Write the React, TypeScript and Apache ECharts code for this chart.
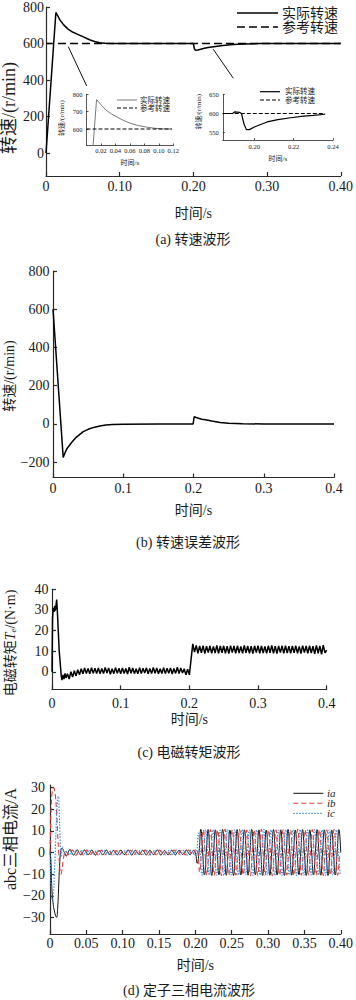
import React, { useEffect, useRef } from "react";
import * as echarts from "echarts";

const FONT = "Liberation Serif, Noto Sans CJK SC, serif";
const STEP = 0.0025;

// (a) speed, main plot
const speedMainT = [0, 0.0134, 0.016, 0.019, 0.024, 0.03, 0.036, 0.043, 0.05, 0.059, 0.066, 0.073, 0.08, 0.09, 0.1, 0.15, 0.199, 0.2, 0.2015, 0.203, 0.206, 0.21, 0.215, 0.22, 0.225, 0.23, 0.24, 0.25, 0.26, 0.27, 0.29, 0.35, 0.4];
const speedMainV = [0, 770, 752, 728, 702, 679, 663, 650, 638, 621, 611, 604, 601, 600, 600, 600, 600, 599, 570, 563, 565, 569, 574, 578, 581, 584, 589, 593, 596, 598, 600, 600, 600];
const refMainT = [0, 0.4];
const refMainV = [600, 600];

// (a) inset 1
const inset1T = [0, 0.0139, 0.016, 0.02, 0.027, 0.034, 0.041, 0.05, 0.06, 0.07, 0.083, 0.095, 0.105, 0.118];
const inset1V = [0, 770, 760, 740, 709, 688, 672, 652, 634, 621, 611, 604, 601, 600];
const inset1RefT = [0, 0.118];
const inset1RefV = [600, 600];

// (a) inset 2
const inset2T = [0.184, 0.189, 0.19, 0.1925, 0.1935, 0.1948, 0.196, 0.1975, 0.2, 0.2065, 0.212, 0.2185, 0.225, 0.23, 0.236];
const inset2V = [600, 600, 604, 603, 600, 572, 558, 558, 565, 578, 584, 589, 593, 595, 598];
const inset2RefT = [0.184, 0.236];
const inset2RefV = [600, 600];

// (b) speed error
const errT = [0, 0.0145, 0.017, 0.02, 0.0265, 0.033, 0.043, 0.05, 0.058, 0.0668, 0.075, 0.085, 0.1, 0.15, 0.1995, 0.201, 0.203, 0.207, 0.212, 0.219, 0.226, 0.238, 0.25, 0.27, 0.3, 0.4];
const errV = [600, -175, -152, -128, -97, -70, -40, -28, -18, -11, -6, -3, -1, 0, 0, 38, 35, 30, 25, 21, 15, 8, 4, 1, 0, 0];

// (c) torque: start-up, then ripple sampled every STEP from TQ_T0
const tqStartT = [0, 0.0008, 0.0018, 0.003, 0.004, 0.005, 0.0068, 0.008, 0.0105, 0.0135, 0.0145, 0.016, 0.0175, 0.019, 0.0205];
const tqStartV = [0, 26, 31, 29, 32, 30, 35, 28, 10, -2, -4, -1.5, -3.5, -0.8, -3];
const TQ_T0 = 0.0225;
const tqWave = [
  -1, -3.5, 0, -2.5, 0.5, -2, 1, -1.5, 1.5, -1,
  1.8, -0.8, 1.6, -1, 2, -0.7, 1.7, -0.9, 1.9, -1,
  1.6, -0.8, 2.1, -0.6, 1.8, -1.2, 1.5, -0.9, 2, -0.7,
  1.7, -1, 1.9, -0.8, 1.6, -1.1, 2.2, -0.7, 1.8, -0.9,
  1.5, -1, 2, -0.8, 1.7, -0.6, 1.9, -1, 1.6, -0.9,
  2.1, -0.7, 1.8, -1, 1.5, -0.8, 2, -0.9, 1.7, -0.7,
  1.9, -1.1, 1.6, -0.8, 2.2, -0.9, 1.8, -0.6, 1.5, -1.5,
  1.2, -1.5, 6, 13.5, 9.5, 12.8, 9, 12.5, 9.2, 12.7,
  8.8, 12.4, 9.3, 12.6, 9, 12.3, 9.1, 12.8, 8.9, 12.5,
  9.2, 12.6, 9, 12.4, 8.8, 12.7, 9.3, 12.5, 9, 12.6,
  9.1, 12.3, 8.9, 12.8, 9.2, 12.5, 9, 12.4, 8.8, 12.6,
  9.3, 12.7, 9, 12.5, 9.1, 12.3, 8.9, 12.6, 9.2, 12.8,
  9, 12.4, 8.8, 12.5, 9.3, 12.6, 9, 12.7, 9.1, 12.4,
  8.9, 12.5, 9.2, 12.6, 9, 12.3, 8.8, 12.7, 9.3, 12.5,
  9, 12.6, 9.1, 12.4, 8.7, 12.8, 9, 12.5, 8.5, 12.9,
  9.2, 10.5,
];

// (d) phase currents: start-up, then samples every STEP from each phase's T0
const iaStartT = [0, 0.001, 0.002, 0.003, 0.0045, 0.006, 0.0075, 0.009, 0.0105, 0.012, 0.0135, 0.015, 0.0165, 0.018, 0.019];
const iaStartV = [0, -3, -12, -19, -24, -27, -29, -30, -26, -15, -4, 1, 2, 1.5, 0.5];
const IA_T0 = 0.02;
const iaWave = [
  0, -1.6, 0.2, 1.4, 0, -1.2, 0.1, 1.3, -0.1, -1.1, 0, 1.2, 0.1, -1.0, 0, 1.1,
  0, -1.2, 0.1, 0.9, 0, -1.0, -0.1, 1.2, 0.1, -0.9, 0, 1.0, 0, -1.1, 0.1, 1.1,
  -0.1, -1.0, 0, 1.2, 0, -1.2, 0.1, 1.0, 0.1, -0.9, 0, 1.1, 0, -1.1, -0.1, 1.0,
  0, -1.0, 0.1, 1.2, 0.1, -1.2, 0, 0.9, 0, -1.0, 0, 1.1, -0.1, -1.1, 0.1, 1.0,
  0, -0.9, 0, 1.2, 0.1, -1.0, 0, 1.0,
  0, -5, 0, 10.8,
  0, -10.4, 0, 10.6, 0, -10.6, 0, 10.5, 0, -10.3, 0, 10.7, 0, -10.5, 0, 10.4,
  0, -10.6, 0, 10.6, 0, -10.4, 0, 10.5, 0, -10.5, 0, 10.7, 0, -10.3, 0, 10.5,
  0, -10.6, 0, 10.4, 0, -10.5, 0, 10.6, 0, -10.4, 0, 10.5, 0, -10.6, 0, 10.7,
  0, -10.5, 0, 10.4, 0, -10.3, 0, 10.6, 0, -10.6, 0, 10.5, 0, -10.4, 0, 10.6,
  0, -10.5, 0, 10.5, 0, -10.6, 0, 10.4, 0, -10.4, 0, 10.6,
  0,
];
const ibStartT = [0, 0.0008, 0.0018, 0.003, 0.0045, 0.006, 0.0075, 0.009, 0.0105, 0.012, 0.0135, 0.015, 0.0165, 0.018, 0.0195, 0.021];
const ibStartV = [0, 12, 22, 28, 30, 29.5, 26, 19, 9, 0, -7, -10, -8, -4, -1, 0.5];
const IB_T0 = 0.023333;
const ibWave = [
  0, -1.0, 0.1, 1.1, 0, -1.2, 0, 1.0, -0.1, -1.1, 0, 1.2, 0.1, -0.9, 0, 1.0,
  0, -1.1, 0.1, 1.1, 0, -1.0, -0.1, 1.2, 0.1, -1.2, 0, 0.9, 0, -1.0, 0.1, 1.1,
  -0.1, -1.1, 0, 1.0, 0, -0.9, 0.1, 1.2, 0.1, -1.0, 0, 1.1, 0, -1.2, -0.1, 1.0,
  0, -1.0, 0.1, 1.1, 0.1, -1.1, 0, 0.9, 0, -1.0, 0, 1.2, -0.1, -0.9, 0.1, 1.0,
  0, -1.1, 0, 1.1,
  0, -1.0, 0.1,
  1.5, 0, -9, 0,
  10.5, 0, -10.4, 0, 10.6, 0, -10.5, 0, 10.4, 0, -10.6, 0, 10.7, 0, -10.4, 0,
  10.5, 0, -10.5, 0, 10.6, 0, -10.3, 0, 10.4, 0, -10.6, 0, 10.5, 0, -10.5, 0,
  10.7, 0, -10.4, 0, 10.5, 0, -10.6, 0, 10.4, 0, -10.5, 0, 10.6, 0, -10.4, 0,
  10.5, 0, -10.6, 0, 10.7, 0, -10.5, 0, 10.4, 0, -10.3, 0, 10.6, 0, -10.5, 0,
  10.5, 0, -10.6, 0, 10.4, 0, -10.4, 0, 10.6, 0, -10.5, 0,
];
const icStartT = [0, 0.001, 0.002, 0.003, 0.0045, 0.006, 0.0075, 0.009, 0.0105, 0.0115, 0.0125, 0.014, 0.0155, 0.017, 0.0185, 0.02, 0.0225, 0.025];
const icStartV = [0, -10, -18, -22, -20, -10, 3, 16, 25, 26, 20, 6, -2, 2.5, 1, -0.5, 0.5, -0.5];
const IC_T0 = 0.026667;
const icWave = [
  0, -1.1, 0, 1.0, 0.1, -1.0, 0, 1.2, 0, -1.2, 0.1, 1.1, -0.1, -0.9, 0, 1.0,
  0, -1.1, 0.1, 1.2, 0.1, -1.0, 0, 0.9, 0, -1.2, -0.1, 1.1, 0, -1.0, 0.1, 1.0,
  0.1, -0.9, 0, 1.2, 0, -1.1, 0, 1.1, -0.1, -1.0, 0.1, 1.0, 0, -1.2, 0, 1.2,
  0.1, -1.0, 0, 0.9, 0, -1.1, 0.1, 1.1, 0, -0.9, -0.1, 1.2, 0.1, -1.0, 0, 1.0,
  0, -1.2, 0.1, 1.1,
  0, -1.1,
  0, 9, 0, -10.5,
  0, 10.5, 0, -10.4, 0, 10.6, 0, -10.5, 0, 10.4, 0, -10.6, 0, 10.7, 0, -10.4,
  0, 10.5, 0, -10.5, 0, 10.6, 0, -10.3, 0, 10.4, 0, -10.6, 0, 10.5, 0, -10.5,
  0, 10.7, 0, -10.4, 0, 10.5, 0, -10.6, 0, 10.4, 0, -10.5, 0, 10.6, 0, -10.4,
  0, 10.5, 0, -10.6, 0, 10.7, 0, -10.5, 0, 10.4, 0, -10.3, 0, 10.6, 0, -10.5,
  0, 10.5, 0, -10.6, 0, 10.4, 0, -10.4, 0, 10.6, 0, -10.5,
];

// tick labels
const speedTicks = [0, 200, 400, 600, 800];
const inset1YTicks = [600, 700, 800];
const inset1XTicks = [0.02, 0.04, 0.06, 0.08, 0.1, 0.12];
const inset2YTicks = [550, 600, 650];
const inset2XTicks = [0.2, 0.22, 0.24];
const errTicks = [-200, 0, 200, 400, 600, 800];
const tqTicks = [0, 10, 20, 30, 40];
const curTicks = [-30, -20, -10, 0, 10, 20, 30];

const pairs = (T: number[], V: number[]) => T.map((t, i) => [t, V[i]]);
const wave = (t0: number, V: number[]) => V.map((v, k) => [t0 + k * STEP, v]);
const minus = (s: string) => s.replace("-", "\u2212");

const AX = "#2a2a2a";
const TXT = "#1a1a1a";
const RED = "#e23b3b";
const BLUE = "#3f8fdc";

function xAxis(grid: number, o: any) {
  const fs = o.fs ?? 14;
  return {
    type: "value",
    gridIndex: grid,
    min: o.min,
    max: o.max,
    interval: o.interval,
    axisLine: { show: true, onZero: false, lineStyle: { color: AX, width: o.lw ?? 1.2 } },
    axisTick: { show: true, inside: true, length: o.tl ?? 4, lineStyle: { color: AX, width: o.lw ?? 1.2 }, customValues: o.custom },
    axisLabel: {
      color: TXT, fontSize: fs, fontFamily: FONT, margin: o.margin ?? 3,
      customValues: o.custom, formatter: o.fmt, showMinLabel: true, showMaxLabel: true,
    },
    splitLine: { show: false },
    name: o.name ?? "时间/s",
    nameLocation: "middle",
    nameGap: o.nameGap,
    nameTextStyle: { color: TXT, fontSize: o.nfs ?? 14, fontFamily: FONT },
  };
}
function yAxis(grid: number, o: any) {
  return {
    type: "value",
    gridIndex: grid,
    min: o.min,
    max: o.max,
    axisLine: { show: true, onZero: false, lineStyle: { color: AX, width: o.lw ?? 1.2 } },
    axisTick: { show: true, inside: true, length: o.tl ?? 4, lineStyle: { color: AX, width: o.lw ?? 1.2 }, customValues: o.custom },
    axisLabel: {
      color: TXT, fontSize: o.fs ?? 14, fontFamily: FONT, margin: o.margin ?? 3,
      customValues: o.custom, formatter: (v: number) => minus(String(v)),
    },
    splitLine: { show: false },
  };
}

function line(name: string, data: any[], xi: number, yi: number, st: any) {
  return {
    type: "line", name, data, xAxisIndex: xi, yAxisIndex: yi,
    symbol: "none", smooth: st.smooth ?? false, clip: true,
    lineStyle: { color: st.color ?? "#000", width: st.width ?? 1.4, type: st.type ?? "solid" },
    itemStyle: { color: st.color ?? "#000" },
    emphasis: { disabled: true },
  };
}

function vtext(x: number, y: number, text: string, fs: number, extra: any = {}) {
  return {
    type: "text", x, y, rotation: Math.PI / 2,
    style: { text, fontSize: fs, fontFamily: FONT, fill: TXT, align: "center", verticalAlign: "middle", ...extra },
  };
}
function htext(x: number, y: number, text: string, fs: number, align = "center", extra: any = {}) {
  return {
    type: "text", x, y,
    style: { text, fontSize: fs, fontFamily: FONT, fill: TXT, align, verticalAlign: "middle", ...extra },
  };
}
function keyLine(x1: number, x2: number, y: number, stroke: string, lw: number, dash?: number[]) {
  return { type: "line", shape: { x1, y1: y, x2, y2: y }, style: { stroke, lineWidth: lw, lineDash: dash } };
}

export default function App() {
  const ref = useRef<HTMLDivElement>(null);
  useEffect(() => {
    if (!ref.current) return;
    const chart = echarts.init(ref.current, null, { renderer: "svg" });
    const f2 = (v: number) => (v === 0 ? "0" : v.toFixed(2));
    const f1 = (v: number) => (v === 0 ? "0" : v.toFixed(1));
    const option: any = {
      animation: false,
      backgroundColor: "#fff",
      grid: [
        { left: 46, top: 6, width: 298, height: 170 },
        { left: 86.5, top: 94.3, width: 86.8, height: 51.2 },
        { left: 222.8, top: 94.3, width: 110.2, height: 45.7 },
        { left: 53, top: 271, width: 281, height: 206.5 },
        { left: 52, top: 589.3, width: 274.7, height: 100 },
        { left: 50, top: 785, width: 292.7, height: 149 },
      ],
      xAxis: [
        xAxis(0, { min: 0, max: 0.4, interval: 0.1, fmt: f2, margin: 3, nameGap: 30 }),
        xAxis(1, { min: 0, max: 0.12, interval: 0.02, custom: inset1XTicks, fmt: f2, fs: 6.5, margin: 2, tl: 2, lw: 0.8, nfs: 7, nameGap: 14 }),
        xAxis(2, { min: 0.184, max: 0.24, custom: inset2XTicks, fmt: f2, fs: 6.5, margin: 3, tl: 2, lw: 0.8, nfs: 7, nameGap: 15 }),
        xAxis(3, { min: 0, max: 0.4, interval: 0.1, fmt: f1, margin: 3.5, nameGap: 26 }),
        xAxis(4, { min: 0, max: 0.4, interval: 0.1, fmt: f1, margin: 7, nameGap: 23 }),
        xAxis(5, { min: 0, max: 0.4, interval: 0.05, fmt: f2, margin: 2, nameGap: 24 }),
      ],
      yAxis: [
        yAxis(0, { min: -125, max: 800, custom: speedTicks, margin: 2 }),
        yAxis(1, { min: 505, max: 800, custom: inset1YTicks, fs: 6.5, margin: 4, tl: 2, lw: 0.8 }),
        yAxis(2, { min: 531, max: 650, custom: inset2YTicks, fs: 6.5, margin: 4, tl: 2, lw: 0.8 }),
        yAxis(3, { min: -280, max: 800, custom: errTicks, margin: 3.5 }),
        yAxis(4, { min: -8.5, max: 40, custom: tqTicks, margin: 3.5 }),
        yAxis(5, { min: -37.7, max: 31.25, custom: curTicks, margin: 5 }),
      ],
      series: [
        line("实际转速", pairs(speedMainT, speedMainV), 0, 0, { width: 1.5 }),
        line("参考转速", pairs(refMainT, refMainV), 0, 0, { width: 1.5, type: [8, 4] }),
        line("实际转速", pairs(inset1T, inset1V), 1, 1, { width: 1, color: "#7a7a7a" }),
        line("参考转速", pairs(inset1RefT, inset1RefV), 1, 1, { width: 1, type: [4, 2] }),
        line("实际转速", pairs(inset2T, inset2V), 2, 2, { width: 1.2 }),
        line("参考转速", pairs(inset2RefT, inset2RefV), 2, 2, { width: 1.2, type: [4, 2] }),
        line("转速误差", pairs(errT, errV), 3, 3, { width: 1.5 }),
        line("电磁转矩", [...pairs(tqStartT, tqStartV), ...wave(TQ_T0, tqWave)], 4, 4, { width: 1.5 }),
        line("ia", [...pairs(iaStartT, iaStartV), ...wave(IA_T0, iaWave)], 5, 5, { width: 1, color: "#111", smooth: 0.5 }),
        line("ib", [...pairs(ibStartT, ibStartV), ...wave(IB_T0, ibWave)], 5, 5, { width: 1.1, color: RED, type: [5, 3], smooth: 0.5 }),
        line("ic", [...pairs(icStartT, icStartV), ...wave(IC_T0, icWave)], 5, 5, { width: 1.2, color: BLUE, type: [1.5, 1.5], smooth: 0.5 }),
      ],
      graphic: [
        { type: "line", shape: { x1: 68.3, y1: 46.7, x2: 86.7, y2: 86 }, style: { stroke: "#111", lineWidth: 1 } },
        { type: "line", shape: { x1: 213.3, y1: 49.3, x2: 233.3, y2: 78.3 }, style: { stroke: "#111", lineWidth: 1 } },
        // legend (a)
        keyLine(237, 278, 13, "#000", 1.5),
        htext(282, 13, "实际转速", 14, "left"),
        keyLine(237, 278, 27, "#000", 1.5, [8, 4]),
        htext(282, 27, "参考转速", 14, "left"),
        // legend inset 1
        keyLine(117, 137, 100, "#7a7a7a", 1),
        htext(140, 100, "实际转速", 7.5, "left"),
        keyLine(117, 137, 108, "#000", 1, [4, 2]),
        htext(140, 108, "参考转速", 7.5, "left"),
        // legend inset 2
        keyLine(260, 280, 91.7, "#000", 1.2),
        htext(285, 91.7, "实际转速", 7.5, "left"),
        keyLine(260, 280, 100, "#000", 1.2, [4, 2]),
        htext(285, 100, "参考转速", 7.5, "left"),
        // legend (d)
        keyLine(293.3, 323.3, 793.3, "#111", 1),
        keyLine(293.3, 323.3, 803.3, RED, 1.1, [5, 3]),
        keyLine(293.3, 323.3, 813.3, BLUE, 1.2, [1.5, 1.5]),
        htext(327, 793, "ia", 11, "left", { fontStyle: "italic" }),
        htext(327, 803, "ib", 11, "left", { fontStyle: "italic" }),
        htext(327, 813, "ic", 11, "left", { fontStyle: "italic" }),
        // axis names
        vtext(9, 108, "转速/(r/min)", 18),
        vtext(62.3, 118, "转速/(r/min)", 7),
        vtext(199.3, 111.7, "转速/(r/min)", 7),
        vtext(9, 376, "转速/(r/min)", 14),
        vtext(10, 643, "电磁转矩{it|T}{sub|e}/(N·m)", 14, {
          rich: {
            it: { fontSize: 14, fontStyle: "italic", fontFamily: FONT, fill: TXT },
            sub: { fontSize: 9, fontStyle: "italic", fontFamily: FONT, fill: TXT, padding: [6, 0, 0, 0] },
          },
        }),
        vtext(10, 839, "abc三相电流/A", 16),
        // captions
        htext(193, 239, "(a) 转速波形", 14),
        htext(188, 542.7, "(b) 转速误差波形", 14),
        htext(189, 752, "(c) 电磁转矩波形", 14),
        htext(189, 990.7, "(d) 定子三相电流波形", 14),
      ],
    };
    chart.setOption(option);
    return () => chart.dispose();
  }, []);
  return <div ref={ref} style={{ position: "absolute", left: 0, top: 0, width: 356, height: 1000 }} />;
}
